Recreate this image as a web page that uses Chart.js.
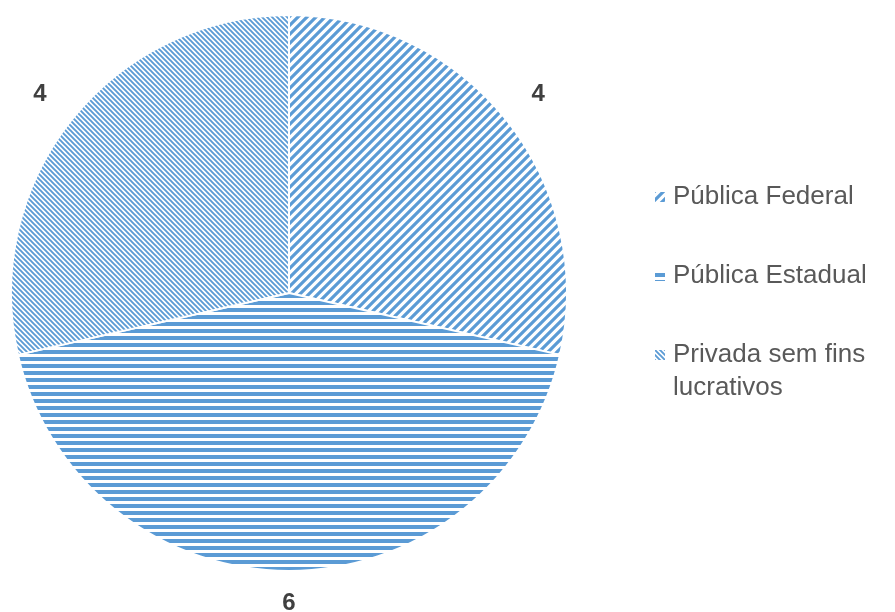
<!DOCTYPE html>
<html>
<head>
<meta charset="utf-8">
<script src="https://cdn.jsdelivr.net/npm/chart.js@4/dist/chart.umd.min.js"></script>
<style>
  html, body { margin: 0; padding: 0; background: #fff; }
  #wrap { width: 895px; height: 612px; }
</style>
</head>
<body>
<div id="wrap"><canvas id="pieChart" width="895" height="612"></canvas></div>
<script>
'use strict';

// data
var categories = ['Pública Federal', 'Pública Estadual', 'Privada sem fins lucrativos'];
var legendLines = [['Pública Federal'], ['Pública Estadual'], ['Privada sem fins', 'lucrativos']];
var values = [4, 6, 4];

var BLUE = '#5B9BD5';

// small tiles used as fill patterns for each slice
function makePattern(kind) {
  var c = document.createElement('canvas');
  var g = c.getContext('2d');
  if (kind === 'horizontal') {
    c.width = 7; c.height = 7;
    g.fillStyle = '#fff';
    g.fillRect(0, 0, 7, 7);
    g.fillStyle = BLUE;
    g.fillRect(0, 0, 7, 4);
  } else {
    var s = kind === 'wideUp' ? 9 : 5;
    var w = kind === 'wideUp' ? 3.2 : 1.9;
    c.width = s; c.height = s;
    g.fillStyle = '#fff';
    g.fillRect(0, 0, s, s);
    g.strokeStyle = BLUE;
    g.lineWidth = w;
    g.beginPath();
    if (kind === 'wideUp') {
      // "/" stripes
      g.moveTo(-s, s); g.lineTo(s, -s);
      g.moveTo(0, 2 * s); g.lineTo(2 * s, 0);
      g.moveTo(0, s); g.lineTo(s, 0);
    } else {
      // "\" stripes
      g.moveTo(-s, 0); g.lineTo(s, 2 * s);
      g.moveTo(0, -s); g.lineTo(2 * s, s);
      g.moveTo(0, 0); g.lineTo(s, s);
    }
    g.stroke();
  }
  return g.createPattern(c, 'repeat');
}

var fills = [makePattern('wideUp'), makePattern('horizontal'), makePattern('denseDown')];

// value labels just outside each slice
var outsideLabels = {
  id: 'outsideLabels',
  afterDatasetsDraw: function(chart) {
    var ctx = chart.ctx;
    var meta = chart.getDatasetMeta(0);
    ctx.save();
    ctx.font = 'bold 24px "Liberation Sans", Arial, sans-serif';
    ctx.fillStyle = '#404040';
    ctx.textAlign = 'center';
    ctx.textBaseline = 'middle';
    meta.data.forEach(function(arc, i) {
      var mid = (arc.startAngle + arc.endAngle) / 2;
      // a bit more room when the label sits beside the pie
      var r = arc.outerRadius + 32 + 11 * Math.abs(Math.cos(mid));
      ctx.fillText(String(chart.data.datasets[0].data[i]), arc.x + Math.cos(mid) * r, arc.y + Math.sin(mid) * r);
    });
    ctx.restore();
  }
};

// legend on the right with wrapped text
var sideLegend = {
  id: 'sideLegend',
  afterDraw: function(chart) {
    var ctx = chart.ctx;
    var x = 655, y = 197, gap = 79, lineH = 33;
    ctx.save();
    ctx.font = '26px "Liberation Sans", Arial, sans-serif';
    ctx.textBaseline = 'middle';
    ctx.textAlign = 'left';
    legendLines.forEach(function(lines, i) {
      var ly = y + i * gap;
      ctx.fillStyle = fills[i];
      ctx.fillRect(x, ly - 5, 10, 10);
      ctx.fillStyle = '#595959';
      lines.forEach(function(t, k) {
        ctx.fillText(t, x + 18, ly + k * lineH);
      });
    });
    ctx.restore();
  }
};

var ctx = document.getElementById('pieChart').getContext('2d');
var chart = new Chart(ctx, {
  type: 'pie',
  data: {
    labels: categories,
    datasets: [{
      data: values,
      backgroundColor: fills,
      borderColor: '#ffffff',
      borderWidth: 2
    }]
  },
  options: {
    responsive: false,
    animation: false,
    events: [],
    layout: { padding: { left: 10, top: 14, right: 327, bottom: 40 } },
    plugins: {
      legend: { display: false },
      tooltip: { enabled: false }
    }
  },
  plugins: [outsideLabels, sideLegend]
});
</script>
</body>
</html>
